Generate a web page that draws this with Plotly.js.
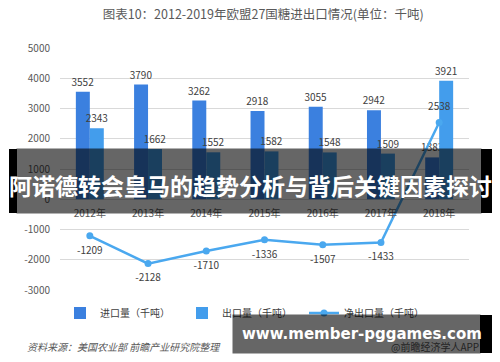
<!DOCTYPE html>
<html><head><meta charset="utf-8">
<script src="https://cdn.plot.ly/plotly-3.0.1.min.js"></script>
<style>html,body{margin:0;padding:0;background:#fff}#chart{width:500px;height:362px}</style>
</head><body><div id="chart"></div>
<script>
const years = ['2012年','2013年','2014年','2015年','2016年','2017年','2018年'];
const importVals = [3552,3790,3262,2918,3055,2942,1383];
const exportVals = [2343,1662,1552,1582,1548,1509,3921];
const netVals = [-1209,-2128,-1710,-1336,-1507,-1433,2538];
const seriesNames = ['进口量（千吨）','出口量（千吨）','净出口量（千吨）'];
const yTicks = [5000,4000,3000,2000,1000,0,-1000,-2000,-3000];
const titleText = '图表10：2012-2019年欧盟27国糖进出口情况(单位：千吨)';
const sourceText = '资料来源：美国农业部 前瞻产业研究院整理';
const appText = '@前瞻经济学人APP';
const bannerText = '阿诺德转会皇马的趋势分析与背后关键因素探讨';
const siteText = 'www.member-pggames.com';

const F = '"Noto Sans CJK SC", "Noto Sans", sans-serif';
const L = 60, R = 469, T = 48, B = 290;
const px = x => (x - L) / (R - L);
const py = y => (B - y) / (B - T);

const traces = [
  {type:'bar', name:seriesNames[0], x:years, y:importVals, text:importVals.map(String),
   textposition:'outside', constraintext:'none', cliponaxis:false, marker:{color:'#3b80df'},
   textfont:{family:F, size:10, color:'#404040'}, hoverinfo:'skip'},
  {type:'bar', name:seriesNames[1], x:years, y:exportVals, text:exportVals.map(String),
   textposition:'outside', constraintext:'none', cliponaxis:false, marker:{color:'#439dec'},
   textfont:{family:F, size:10, color:'#404040'}, hoverinfo:'skip'},
  {type:'scatter', mode:'lines+markers', name:seriesNames[2], x:years, y:netVals,
   cliponaxis:false, line:{color:'#4aa8ef', width:2.5}, marker:{color:'#4aa8ef', size:7}, hoverinfo:'skip'},
  {type:'scatter', mode:'markers+text', x:years, y:netVals, showlegend:false,
   text:netVals.map(String), textposition:netVals.map((v,i)=> i===netVals.length-1 ? 'top center' : 'bottom center'),
   cliponaxis:false, marker:{size:15, color:'rgba(0,0,0,0)'},
   textfont:{family:F, size:10, color:'#404040'}, hoverinfo:'skip'},
  {type:'scatter', mode:'markers+text', x:years, y:years.map(()=>0), text:years,
   textposition:'bottom center', showlegend:false, cliponaxis:false,
   marker:{size:14, color:'rgba(0,0,0,0)'}, textfont:{family:F, size:10, color:'#595959'}, hoverinfo:'skip'}
];

const layout = {
  width:500, height:362,
  margin:{l:L, r:500-R, t:T, b:362-B, pad:0},
  paper_bgcolor:'#fff', plot_bgcolor:'#fff',
  font:{family:F, size:10, color:'#595959'},
  title:{text:titleText, x:0.497, xref:'paper', y:1-15/362, yanchor:'middle', xanchor:'center',
         font:{family:F, size:12.5, color:'#595959'}},
  barmode:'group', bargap:0.52, bargroupgap:0,
  showlegend:true,
  legend:{orientation:'h', x:px(60), xanchor:'left', y:py(313), yanchor:'middle',
          font:{family:F, size:10, color:'#404040'}, entrywidth:77, entrywidthmode:'pixels',
          bgcolor:'rgba(0,0,0,0)'},
  xaxis:{type:'category', showticklabels:false, showgrid:false, zeroline:false, showline:false, ticks:''},
  yaxis:{range:[-3000,5000], tickvals:yTicks, ticktext:yTicks.map(String), showgrid:true,
         gridcolor:'#d9d9d9', gridwidth:1, zeroline:true, zerolinecolor:'#d9d9d9', zerolinewidth:1,
         showline:false, ticks:'', ticklabelstandoff:9, tickfont:{family:F, size:10, color:'#595959'}},
  shapes:[
    {type:'rect', xref:'paper', yref:'paper', x0:px(9), x1:px(17), y0:py(213), y1:py(149), fillcolor:'#000', line:{width:0}, layer:'above'},
    {type:'rect', xref:'paper', yref:'paper', x0:px(481), x1:px(492), y0:py(213), y1:py(149), fillcolor:'#000', line:{width:0}, layer:'above'},
    {type:'rect', xref:'paper', yref:'paper', x0:px(480), x1:px(492), y0:py(353), y1:py(315), fillcolor:'#000', line:{width:0}, layer:'above'}
  ],
  annotations:[
    {text:'<i>'+sourceText+'</i>', xref:'paper', yref:'paper', x:px(25), y:py(346), xanchor:'left', yanchor:'middle',
     showarrow:false, font:{family:F, size:10, color:'#595959'}},
    {text:appText, xref:'paper', yref:'paper', x:px(481), y:py(346), xanchor:'right', yanchor:'middle',
     showarrow:false, font:{family:F, size:10, color:'#595959'}},
    {text:' ', xref:'paper', yref:'paper', x:px(249), y:py(181), xanchor:'center', yanchor:'middle',
     width:464, height:64, borderpad:0, bgcolor:'rgba(0,0,0,0.6)', showarrow:false},
    {text:' ', xref:'paper', yref:'paper', x:px(356.5), y:py(334), xanchor:'center', yanchor:'middle',
     width:247, height:38, borderpad:0, bgcolor:'rgba(0,0,0,0.6)', showarrow:false},
    {text:'<b>'+bannerText+'</b>', xref:'paper', yref:'paper', x:px(250), y:py(185), xanchor:'center', yanchor:'middle',
     showarrow:false, font:{family:F, size:23, color:'#ffffff'}},
    {text:'<b>'+siteText+'</b>', xref:'paper', yref:'paper', x:px(362), y:py(334), xanchor:'center', yanchor:'middle',
     showarrow:false, font:{family:'"DejaVu Sans", sans-serif', size:15, color:'#ffffff'}}
  ]
};

Plotly.newPlot('chart', traces, layout, {staticPlot:true, displayModeBar:false});
</script></body></html>
